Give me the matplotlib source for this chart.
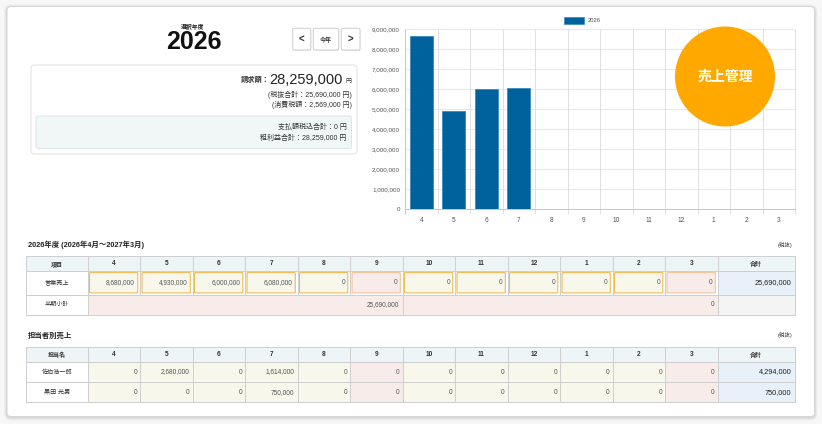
import matplotlib
matplotlib.use('Agg')
import matplotlib.pyplot as plt
import numpy as np
from matplotlib.patches import Rectangle, FancyBboxPatch, Circle

plt.rcParams['font.family'] = ['Liberation Sans', 'Noto Sans CJK JP', 'DejaVu Sans']

# ---------------- data ----------------
year_label = '2026'
months = ['4', '5', '6', '7', '8', '9', '10', '11', '12', '1', '2', '3']
sales = [8680000, 4930000, 6000000, 6080000, 0, 0, 0, 0, 0, 0, 0, 0]
chart_values = [8680000, 4930000, 6000000, 6080000, 0, 0, 0, 0, 0, 0, 0, 0]
half_totals = [25690000, 0]
half_end_months = ['9', '3']
staff_names = ['佐伯浩一郎', '黒田 光男']
staff_sales = [
    [0, 2680000, 0, 1614000, 0, 0, 0, 0, 0, 0, 0, 0],
    [0, 0, 0, 750000, 0, 0, 0, 0, 0, 0, 0, 0],
]
invoice_total = 28259000
ex_tax_total = 25690000
tax_total = 2569000
payment_total = 0
gross_profit = 28259000
yticks = [0, 1000000, 2000000, 3000000, 4000000, 5000000, 6000000, 7000000, 8000000, 9000000]

W, H = 822, 424
fig = plt.figure(figsize=(W / 100, H / 100), dpi=100, facecolor='#f7f7f7')

bg = fig.add_axes([0, 0, 1, 1], zorder=1)
bg.set_xlim(0, W)
bg.set_ylim(H, 0)
bg.axis('off')

top = fig.add_axes([0, 0, 1, 1], zorder=3)
top.set_xlim(0, W)
top.set_ylim(H, 0)
top.axis('off')
top.patch.set_alpha(0)

PX = 0.72  # 1 px in points


def box(ax, x0, y0, x1, y1, fc, ec='none', lw=1.0, r=0, z=1):
    if r:
        p = FancyBboxPatch((x0, y0), x1 - x0, y1 - y0,
                           boxstyle=f'round,pad=0,rounding_size={r}',
                           fc=fc, ec=ec, lw=lw * PX, zorder=z)
    else:
        p = Rectangle((x0, y0), x1 - x0, y1 - y0, fc=fc, ec=ec, lw=lw * PX, zorder=z)
    ax.add_patch(p)
    return p


def fmt(v):
    return f'{v:,}'


# ---------------- card ----------------
for i, a in enumerate([0.05, 0.04, 0.03]):
    box(bg, 7 - i - 1, 6.5 - i, 814.5 + i + 1, 416.5 + i + 2, fc=(0, 0, 0, a), r=5 + i, z=0.5)
box(bg, 7, 6.5, 814.5, 416.5, fc='white', ec='#d6d6d6', lw=1, r=4, z=0.6)

# ---------------- left panel ----------------
bg.text(193, 26.5, '選択年度', ha='center', va='center', fontsize=4.2, fontweight='bold', color='#222')
bg.text(194, 42, year_label, ha='center', va='center', fontsize=18, fontweight='bold', color='#111')

for (x0, x1, lab) in [(292.7, 310.7, '<'), (313.3, 338.7, '今年'), (341.3, 360, '>')]:
    box(bg, x0 + 0.5, 29, x1 + 0.5, 50.8, fc='#e8e8e8', r=1.5, z=2)
    box(bg, x0, 28.3, x1, 50, fc='white', ec='#cfcfcf', lw=1, r=1.5, z=2.1)
    fs = 7 if lab in '<>' else 4.3
    bg.text((x0 + x1) / 2, 39.3, lab, ha='center', va='center', fontsize=fs,
            fontweight='bold', color='#333', zorder=3)

box(bg, 31, 65, 357, 154, fc='white', ec='#e0e0e0', lw=1, r=3, z=2)
box(bg, 36, 116, 351.5, 148.5, fc='#f1f7f7', ec='#dde6e6', lw=1, r=2, z=2.1)

bg.text(270, 80.5, '請求額：', ha='right', va='center', fontsize=5.2, fontweight='bold', color='#333', zorder=3)
bg.text(342.5, 80, fmt(invoice_total), ha='right', va='center', fontsize=10.5, color='#222', zorder=3)
bg.text(351.7, 81.5, '円', ha='right', va='center', fontsize=4.3, color='#333', zorder=3)
bg.text(351.5, 95, f'(税抜合計：{fmt(ex_tax_total)} 円)', ha='right', va='center', fontsize=5, color='#333', zorder=3)
bg.text(351.5, 105, f'(消費税額：{fmt(tax_total)} 円)', ha='right', va='center', fontsize=5, color='#333', zorder=3)
bg.text(346.7, 127.7, f'支払額税込合計：{fmt(payment_total)} 円', ha='right', va='center', fontsize=5, color='#333', zorder=3)
bg.text(346.7, 137.9, f'粗利益合計：{fmt(gross_profit)} 円', ha='right', va='center', fontsize=5, color='#333', zorder=3)

# ---------------- bar chart ----------------
ax_l, ax_r, ax_t, ax_b = 405, 795, 29.3, 209.3
ax = fig.add_axes([ax_l / W, (H - ax_b) / H, (ax_r - ax_l) / W, (ax_b - ax_t) / H], zorder=2)
ax.patch.set_alpha(0)
x = np.arange(len(months))
ax.bar(x, chart_values, width=0.71, color='#00629c', edgecolor='#2f7fb8', linewidth=0.5, zorder=3)
ax.set_xlim(-0.5, len(months) - 0.5)
ax.set_ylim(0, yticks[-1])
ax.set_yticks(yticks)
ax.set_yticklabels([fmt(v) for v in yticks], fontsize=4.5, color='#555')
ax.set_xticks(x)
ax.set_xticklabels(months, fontsize=4.7, color='#555')
ax.tick_params(axis='both', length=0)
ax.tick_params(axis='y', pad=3.6)
ax.tick_params(axis='x', pad=5.5)
for s in ax.spines.values():
    s.set_visible(False)
for v in yticks[1:]:
    ax.axhline(v, color='#e8e8e8', lw=1 * PX, zorder=1)
ext = yticks[-1] * 4.5 / (ax_b - ax_t)
bounds = np.arange(-0.5, len(months), 1.0)
ax.vlines(bounds[1:], -ext, yticks[-1], colors='#e0e0e0', lw=1 * PX, zorder=1, clip_on=False)
ax.vlines([bounds[0]], -ext, yticks[-1], colors='#c8c8c8', lw=1 * PX, zorder=2, clip_on=False)
ax.axhline(0, color='#c8c8c8', lw=1 * PX, zorder=2, clip_on=False)

# legend
box(bg, 563.5, 17.3, 584, 24, fc='#00629c', ec='#2f7fb8', lw=0.6, z=2)
bg.text(588, 20.6, year_label, ha='left', va='center', fontsize=4.2, color='#555', zorder=3)

# badge
top.add_patch(Circle((725, 76.5), 50, fc='#ffa800', ec='none', zorder=5))
top.text(725, 77, '売上管理', ha='center', va='center', fontsize=10, fontweight='bold',
         color='white', zorder=6)

# ---------------- tables ----------------
first_l, first_r = 26, 87.5
mw = 52.5
col_edges = [first_l, first_r] + [first_r + mw * (i + 1) for i in range(len(months))]
tot_r = 794.5
col_edges.append(tot_r)

HEAD = '#eef5f6'
GRID = '#cfcfcf'
CREAM = '#f8f7ec'
PINK = '#f8ecea'
BLUE = '#e8f1f9'
ORANGE = '#efbb55'
ORANGE_P = '#f0c49a'


def header_row(y0, y1, first_label):
    box(bg, first_l, y0, tot_r, y1, fc=HEAD, z=2)
    labels = [first_label] + months + ['合計']
    for i, lab in enumerate(labels):
        cx = (col_edges[i] + col_edges[i + 1]) / 2
        fs = 4.7 if lab.isdigit() else 4.3
        bg.text(cx, (y0 + y1) / 2 + 0.3, lab, ha='center', va='center', fontsize=fs,
                fontweight='bold', color='#333', zorder=4)


def grid_lines(rows_y, vspans):
    for y in rows_y:
        bg.plot([first_l, tot_r], [y, y], color=GRID, lw=1 * PX, zorder=5)
    for xe, (ya, yb) in vspans:
        bg.plot([xe, xe], [ya, yb], color=GRID, lw=1 * PX, zorder=5)


# ---- table 1 ----
bg.text(28, 244.5, f'{year_label}年度 (2026年4月～2027年3月)', ha='left', va='center',
        fontsize=5.3, fontweight='bold', color='#222', zorder=4)
bg.text(792, 245, '(税抜)', ha='right', va='center', fontsize=4, color='#444', zorder=4)

t1 = [256, 271, 294.5, 314.5]
header_row(t1[0], t1[1], '項目')
# row 1
bg.text((first_l + first_r) / 2, (t1[1] + t1[2]) / 2, '営業売上', ha='center', va='center',
        fontsize=4.4, color='#333', zorder=4)
for i, v in enumerate(sales):
    x0, x1 = col_edges[i + 1], col_edges[i + 2]
    pink = months[i] in half_end_months
    box(bg, x0 + 2, t1[1] + 1.6, x1 - 2.2, t1[2] - 1.6, fc=PINK if pink else CREAM,
        ec=ORANGE_P if pink else ORANGE, lw=1.1, r=0.8, z=3)
    bg.text(x1 - 5, (t1[1] + t1[2]) / 2, fmt(v), ha='right', va='center', fontsize=4.7,
            color='#555', zorder=4)
box(bg, col_edges[-2], t1[1], tot_r, t1[2], fc=BLUE, z=2)
bg.text(tot_r - 3, (t1[1] + t1[2]) / 2, fmt(sum(sales)), ha='right', va='center',
        fontsize=5.3, color='#222', zorder=4)
# row 2 (half-year subtotals)
bg.text((first_l + first_r) / 2, (t1[2] + t1[3]) / 2, '半期小計', ha='center', va='center',
        fontsize=4.4, color='#333', zorder=4)
half_n = len(months) // 2
spans = [(1, 1 + half_n), (1 + half_n, 1 + 2 * half_n)]
for (a, b), v in zip(spans, half_totals):
    box(bg, col_edges[a], t1[2], col_edges[b], t1[3], fc=PINK, z=2)
    bg.text(col_edges[b] - 3, (t1[2] + t1[3]) / 2, fmt(v), ha='right', va='center',
            fontsize=4.7, color='#555', zorder=4)
box(bg, col_edges[-2], t1[2], tot_r, t1[3], fc='#f4f4f4', z=2)
vs = []
for i, xe in enumerate(col_edges):
    vs.append((xe, (t1[0], t1[2])))
vs += [(col_edges[0], (t1[2], t1[3])), (col_edges[1], (t1[2], t1[3])),
       (col_edges[1 + half_n], (t1[2], t1[3])), (col_edges[-2], (t1[2], t1[3])),
       (col_edges[-1], (t1[2], t1[3]))]
grid_lines(t1, vs)

# ---- table 2 ----
bg.text(28, 336, '担当者別売上', ha='left', va='center', fontsize=5.3, fontweight='bold',
        color='#222', zorder=4)
bg.text(792, 335.5, '(税抜)', ha='right', va='center', fontsize=4, color='#444', zorder=4)

t2 = [347, 362, 382, 402.3]
header_row(t2[0], t2[1], '担当名')
for r, (name, vals) in enumerate(zip(staff_names, staff_sales)):
    y0, y1 = t2[r + 1], t2[r + 2]
    cy = (y0 + y1) / 2
    bg.text((first_l + first_r) / 2, cy, name, ha='center', va='center', fontsize=4.4,
            color='#333', zorder=4)
    for i, v in enumerate(vals):
        x0, x1 = col_edges[i + 1], col_edges[i + 2]
        pink = months[i] in half_end_months
        box(bg, x0, y0, x1, y1, fc=PINK if pink else CREAM, z=2)
        bg.text(x1 - 3, cy, fmt(v), ha='right', va='center', fontsize=4.7, color='#555', zorder=4)
    box(bg, col_edges[-2], y0, tot_r, y1, fc=BLUE, z=2)
    bg.text(tot_r - 3, cy, fmt(sum(vals)), ha='right', va='center', fontsize=5.3,
            color='#222', zorder=4)
grid_lines(t2, [(xe, (t2[0], t2[-1])) for xe in col_edges])

fig.savefig('out.png', dpi=100, facecolor=fig.get_facecolor())
